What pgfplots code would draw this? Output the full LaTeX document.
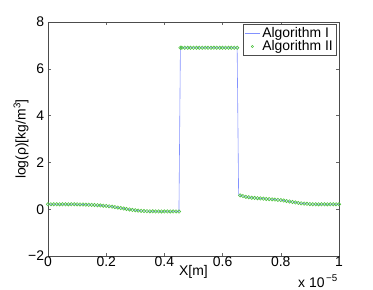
\documentclass[border=0pt]{standalone}
\usepackage{fontspec}
\setmainfont{Liberation Sans}
\usepackage{pgfplots}
\pgfplotsset{compat=1.18}
\usepackage{pgfplotstable}
\definecolor{lineblue}{RGB}{130,145,255}
\definecolor{mkgreen}{RGB}{80,195,65}
\pgfplotstableread{
x y
0.00 0.21
0.01 0.21
0.02 0.21
0.03 0.21
0.04 0.21
0.05 0.21
0.06 0.21
0.07 0.21
0.08 0.21
0.09 0.21
0.10 0.21
0.11 0.205
0.12 0.20
0.13 0.195
0.14 0.19
0.15 0.185
0.16 0.18
0.17 0.17
0.18 0.16
0.19 0.15
0.20 0.14
0.21 0.125
0.22 0.11
0.23 0.09
0.24 0.07
0.25 0.05
0.26 0.03
0.27 0.01
0.28 -0.01
0.29 -0.03
0.30 -0.045
0.31 -0.06
0.32 -0.07
0.33 -0.08
0.34 -0.085
0.35 -0.09
0.36 -0.09
0.37 -0.095
0.38 -0.095
0.39 -0.095
0.40 -0.095
0.41 -0.095
0.42 -0.095
0.43 -0.095
0.44 -0.095
0.45 -0.10
0.455 6.9
0.46 6.9
0.47 6.9
0.48 6.9
0.49 6.9
0.50 6.9
0.51 6.9
0.52 6.9
0.53 6.9
0.54 6.9
0.55 6.9
0.56 6.9
0.57 6.9
0.58 6.9
0.59 6.9
0.60 6.9
0.61 6.9
0.62 6.9
0.63 6.9
0.64 6.9
0.65 6.9
0.66 0.59
0.67 0.56
0.68 0.53
0.69 0.51
0.70 0.49
0.71 0.48
0.72 0.47
0.73 0.46
0.74 0.45
0.75 0.44
0.76 0.43
0.77 0.42
0.78 0.41
0.79 0.40
0.80 0.39
0.81 0.37
0.82 0.35
0.83 0.33
0.84 0.31
0.85 0.29
0.86 0.27
0.87 0.25
0.88 0.24
0.89 0.23
0.90 0.22
0.91 0.21
0.92 0.21
0.93 0.21
0.94 0.21
0.95 0.21
0.96 0.21
0.97 0.21
0.98 0.21
0.99 0.21
1.00 0.21
}\algtwo
\pgfplotstableread{
x y
0.00 0.21
0.10 0.21
0.12 0.20
0.15 0.185
0.18 0.16
0.20 0.14
0.22 0.11
0.24 0.07
0.26 0.03
0.28 -0.01
0.30 -0.045
0.32 -0.07
0.34 -0.085
0.36 -0.09
0.40 -0.095
0.44 -0.095
0.45 -0.10
0.455 6.9
0.65 6.9
0.655 0.65
0.66 0.59
0.68 0.53
0.70 0.49
0.75 0.44
0.80 0.39
0.82 0.35
0.84 0.31
0.86 0.27
0.88 0.24
0.90 0.22
0.92 0.21
1.00 0.21
}\algone
\begin{document}
\fontsize{14}{15}\selectfont
\begin{tikzpicture}
\begin{axis}[
  name=ax,
  at={(0,0)}, anchor=south west,
  scale only axis,
  width=291bp, height=234bp,
  xmin=0, xmax=1, ymin=-2, ymax=8,
  xtick={0,0.2,0.4,0.6,0.8,1},
  xticklabels={0,0.2,0.4,0.6,0.8,1},
  ytick={-2,0,2,4,6,8},
  yticklabels={−2,0,2,4,6,8},
  tick align=inside,
  tick pos=both,
  major tick length=3bp,
  tick style={black!60, line width=0.4pt},
  axis line style={black!70, line width=0.6pt},
  /pgf/number format/assume math mode=true,
  ticklabel style={font=\fontsize{14}{15}\selectfont},
  xticklabel style={yshift=4bp},
  yticklabel style={xshift=1bp},
  xlabel={X[m]},
  xlabel style={yshift=11bp},
  ylabel={log(ρ)[kg/m\textsuperscript{3}]},
  ylabel style={at={(axis description cs:-0.0928,0.5)}, anchor=center},
  legend style={at={(1,1)}, anchor=north east, xshift=-3bp, yshift=-2bp,
    draw=black!70,
    font=\fontsize{14}{15}\selectfont, inner sep=1pt, row sep=-3pt,
    cells={anchor=west}},
  legend cell align=left,
]
\addplot[color=lineblue, line width=0.6pt,
  legend image code/.code={\draw[lineblue, line width=0.8pt] (0bp,0bp) -- (15bp,0bp);}] table {\algone};
\addlegendentry{Algorithm I}
\addplot[only marks, mark=o, mark size=1.7pt, color=mkgreen, mark options={line width=0.6pt},
  legend image code/.code={\draw[mkgreen, line width=0.5pt] (7.5bp,0bp) circle (1.2bp);}] table {\algtwo};
\addlegendentry{Algorithm II}
\end{axis}
\node[anchor=base east, inner sep=0pt, font=\fontsize{14}{15}\selectfont] at ([xshift=-1bp,yshift=-31bp]ax.south east) {x 10\textsuperscript{\,−5}};
\pgfresetboundingbox
\path (-48bp,-34bp) rectangle (325bp,256bp);
\end{tikzpicture}
\end{document}
